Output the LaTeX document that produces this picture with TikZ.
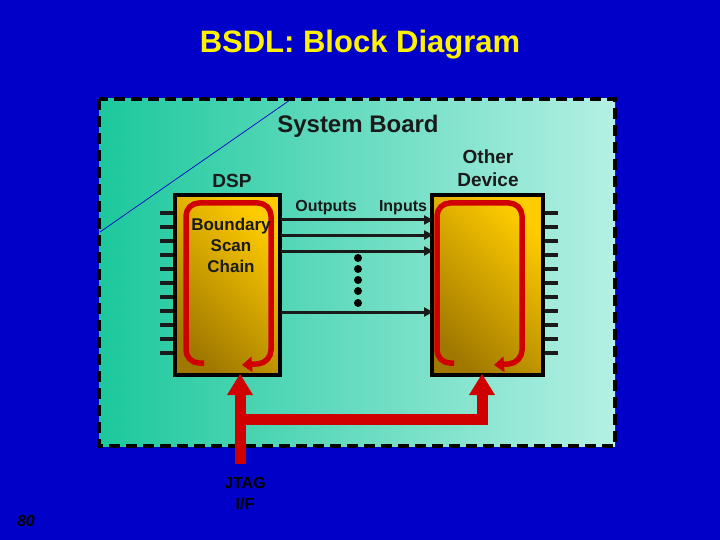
\documentclass[tikz,border=0pt]{standalone}
\usepackage{fontspec}
\setmainfont{Liberation Sans}
\usetikzlibrary{arrows.meta}
\definecolor{bg}{HTML}{0000C8}
\definecolor{jred}{HTML}{D00000}
\definecolor{gold1}{HTML}{FFCC00}
\definecolor{gold2}{HTML}{A07800}
\definecolor{tealA}{HTML}{1CC89C}
\definecolor{tealB}{HTML}{B4F0E4}
\definecolor{ink}{HTML}{1A1A1A}
\begin{document}
\begin{tikzpicture}[x=1pt,y=-1pt,
  lbl/.style={font=\bfseries, text=ink, align=center, inner sep=0pt},
  chip/.style={left color=gold1, right color=gold2, shading angle=315},
  pin/.style={line width=3.5pt, draw=ink},
  sig/.style={line width=3pt, draw=ink, -{Triangle[length=9pt,width=9pt]}},
  loop/.style={line width=5.5pt, draw=jred, rounded corners=13pt},
  jtag/.style={line width=11pt, draw=jred}]
\useasboundingbox (0,0) rectangle (720,540);
\fill[bg] (0,0) rectangle (720,540);
\node (title) at (360,45) {\fontsize{31pt}{36pt}\selectfont\bfseries\color{yellow}BSDL: Block Diagram};
% board
\shade[shading angle=315, left color=tealA, right color=tealB] (99,99) rectangle (615,446);
\draw[line width=4pt, dash pattern=on 11pt off 6pt, draw=black] (99,99) rectangle (615,446);
\draw[bg, line width=0.7pt] (290,100) -- (100,232);
\node[lbl, font=\fontsize{24pt}{28pt}\selectfont\bfseries] (sb) at (358,126) {System Board};
\node[lbl, font=\fontsize{19pt}{22pt}\selectfont\bfseries] (dspl) at (232,181) {DSP};
\node[lbl, font=\fontsize{19pt}{23pt}\selectfont\bfseries] (odl) at (488,168) {Other\\Device};
% pins
\foreach \i in {0,...,10} {
  \draw[pin] (160,{213+\i*14}) -- (175,{213+\i*14});
  \draw[pin] (543,{213+\i*14}) -- (558,{213+\i*14});
}
% chips
\shade[chip] (175,195) rectangle (280,375);
\draw[black, line width=4pt] (175,195) rectangle (280,375);
\shade[chip] (432,195) rectangle (543,375);
\draw[black, line width=4pt] (432,195) rectangle (543,375);
% loops
\draw[loop, -{Triangle[length=10pt,width=15pt]}] (204,363) -- (186,363) -- (186,203) -- (271,203) -- (271,363) -- (242,365);
\draw[loop, -{Triangle[length=10pt,width=15pt]}] (454,363) -- (437,363) -- (437,203) -- (522,203) -- (522,363) -- (494,365);
\node[lbl, font=\fontsize{17pt}{21pt}\selectfont\bfseries] (bsc) at (231,245) {Boundary\\Scan\\Chain};
% signals
\node[lbl, font=\fontsize{16pt}{18pt}\selectfont\bfseries] (outl) at (326,208) {Outputs};
\node[lbl, font=\fontsize{16pt}{18pt}\selectfont\bfseries] (inl) at (403,208) {Inputs};
\foreach \y in {220,235,251,312} {
  \coordinate (s\y) at (281,\y); \coordinate (e\y) at (433,\y);
  \draw[sig] (s\y) -- (e\y);
}
\foreach \y in {258,269,280,291,303} \fill[black] (358,\y) circle (4pt);
% JTAG
\coordinate (jb) at (240,464);
\coordinate (jj) at (240,419);
\coordinate (jr) at (482,419);
\draw[jtag] (jb) -- (240,392);
\draw[jtag] (jj) -- (jr) -- (482,392);
\fill[jred] (240,374) -- (227,395) -- (253,395) -- cycle;
\fill[jred] (482,374) -- (469,395) -- (495,395) -- cycle;
\node[lbl, text=black, font=\fontsize{16pt}{21pt}\selectfont\bfseries] (jl) at (245,494) {JTAG\\I/F};
\node[lbl, text=black, font=\fontsize{16pt}{18pt}\selectfont\bfseries\itshape] (pg) at (26,521) {80};
\end{tikzpicture}
\end{document}
